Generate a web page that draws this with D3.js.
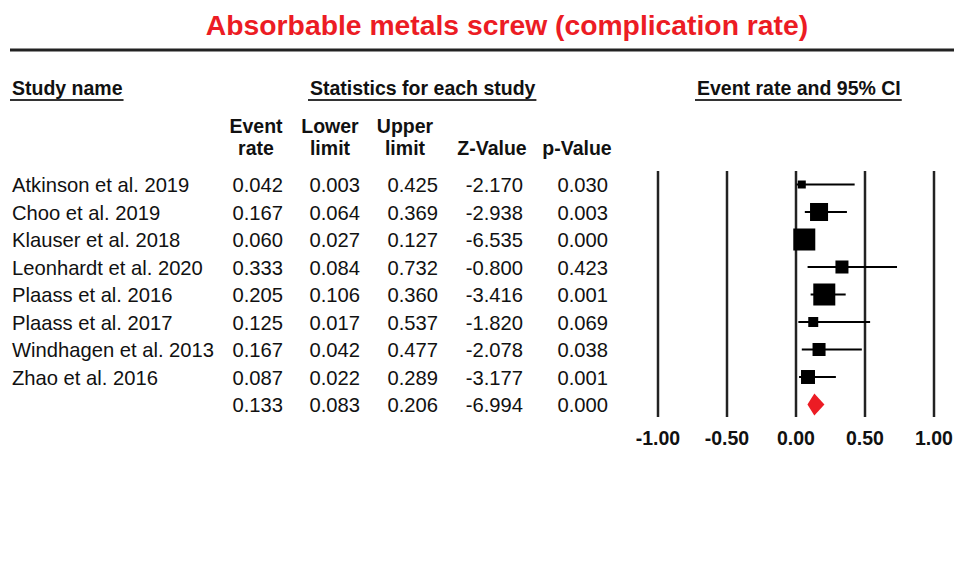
<!DOCTYPE html>
<html>
<head>
<meta charset="utf-8">
<script src="https://cdn.jsdelivr.net/npm/d3@7"></script>
<style>
  body { margin: 0; background: #fff; }
  svg text { font-family: "Liberation Sans", Arial, sans-serif; fill: #111; }
</style>
</head>
<body>
<script>
var studies = ["Atkinson et al. 2019", "Choo et al. 2019", "Klauser et al. 2018", "Leonhardt et al. 2020",
  "Plaass et al. 2016", "Plaass et al. 2017", "Windhagen et al. 2013", "Zhao et al. 2016"];
var eventRate = [0.042, 0.167, 0.060, 0.333, 0.205, 0.125, 0.167, 0.087];
var lowerLimit = [0.003, 0.064, 0.027, 0.084, 0.106, 0.017, 0.042, 0.022];
var upperLimit = [0.425, 0.369, 0.127, 0.732, 0.360, 0.537, 0.477, 0.289];
var zValue = [-2.170, -2.938, -6.535, -0.800, -3.416, -1.820, -2.078, -3.177];
var pValue = [0.030, 0.003, 0.000, 0.423, 0.001, 0.069, 0.038, 0.001];
// relative weights
var weights = [3.2, 16.3, 24.3, 8.5, 24.3, 5.0, 8.5, 9.8];
var summary = [0.133, 0.083, 0.206, -6.994, 0.000];
var xTicks = [-1, -0.5, 0, 0.5, 1];

var width = 954, height = 562;
var fs = 19.5, fsRow = 20.2;
// hyphen instead of unicode minus, like the original
var fmt = function(d){ return d3.format(".3f")(d).replace("\u2212", "-"); };
var tickFmt = function(d){ return d3.format(".2f")(d).replace("\u2212", "-"); };

var svg = d3.select("body").append("svg")
  .attr("width", width)
  .attr("height", height);

// title + rule
svg.append("text")
  .attr("x", 507).attr("y", 35)
  .attr("text-anchor", "middle")
  .style("font-size", "28.3px").style("font-weight", "bold")
  .style("fill", "#ec1c24")
  .text("Absorbable metals screw (complication rate)");

svg.append("line")
  .attr("x1", 10).attr("x2", width)
  .attr("y1", 50).attr("y2", 50)
  .attr("stroke", "#222").attr("stroke-width", 3);

// section headers, underlined
var sections = [["Study name", 12], ["Statistics for each study", 310], ["Event rate and 95% CI", 697]];
sections.forEach(function(s){
  var t = svg.append("text")
    .attr("x", s[1]).attr("y", 95)
    .style("font-size", fs + "px").style("font-weight", "bold")
    .text(s[0]);
  var w = t.node().getComputedTextLength();
  svg.append("line")
    .attr("x1", s[1] - 2).attr("x2", s[1] + w + 1)
    .attr("y1", 100).attr("y2", 100)
    .attr("stroke", "#333").attr("stroke-width", 2);
});

// column headers
var cols = [
  {top: "Event", bottom: "rate", cx: 256, right: 283, vals: eventRate},
  {top: "Lower", bottom: "limit", cx: 330, right: 360, vals: lowerLimit},
  {top: "Upper", bottom: "limit", cx: 405, right: 438, vals: upperLimit},
  {top: "", bottom: "Z-Value", cx: 492, right: 523, vals: zValue},
  {top: "", bottom: "p-Value", cx: 577, right: 608, vals: pValue}
];

cols.forEach(function(c, ci){
  svg.append("text").attr("x", c.cx).attr("y", 133)
    .attr("text-anchor", "middle")
    .style("font-size", fs + "px").style("font-weight", "bold")
    .text(c.top);
  svg.append("text").attr("x", c.cx).attr("y", 155)
    .attr("text-anchor", "middle")
    .style("font-size", fs + "px").style("font-weight", "bold")
    .text(c.bottom);
});

// rows
var rowIdx = d3.range(studies.length + 1);
var y = d3.scalePoint().domain(rowIdx).range([184.5, 404.5]);

svg.selectAll(".study")
  .data(studies)
  .enter().append("text")
  .attr("class", "study")
  .attr("x", 12)
  .attr("y", function(d, i){ return y(i) + 7.5; })
  .style("font-size", fsRow + "px")
  .text(function(d){ return d; });

cols.forEach(function(c, ci){
  var vals = c.vals.concat([summary[ci]]);
  svg.selectAll(".col" + ci)
    .data(vals)
    .enter().append("text")
    .attr("class", "col" + ci)
    .attr("x", c.right)
    .attr("y", function(d, i){ return y(i) + 7.5; })
    .attr("text-anchor", "end")
    .style("font-size", fsRow + "px")
    .text(function(d){ return fmt(d); });
});

// forest plot
var x = d3.scaleLinear().domain([-1, 1]).range([658, 934]);
var size = d3.scaleSqrt().domain([0, d3.max(weights)]).range([0, 22]);

svg.selectAll(".grid")
  .data(xTicks)
  .enter().append("line")
  .attr("class", "grid")
  .attr("x1", function(d){ return x(d); })
  .attr("x2", function(d){ return x(d); })
  .attr("y1", 171).attr("y2", 417)
  .attr("stroke", "#222").attr("stroke-width", 2.5);

svg.selectAll(".tick")
  .data(xTicks)
  .enter().append("text")
  .attr("class", "tick")
  .attr("x", function(d){ return x(d); })
  .attr("y", 445)
  .attr("text-anchor", "middle")
  .style("font-size", fs + "px").style("font-weight", "bold")
  .text(tickFmt);

svg.selectAll(".ci")
  .data(studies)
  .enter().append("line")
  .attr("class", "ci")
  .attr("x1", function(d, i){ return x(lowerLimit[i]); })
  .attr("x2", function(d, i){ return x(upperLimit[i]); })
  .attr("y1", function(d, i){ return y(i); })
  .attr("y2", function(d, i){ return y(i); })
  .attr("stroke", "#000").attr("stroke-width", 2);

svg.selectAll(".box")
  .data(studies)
  .enter().append("rect")
  .attr("class", "box")
  .attr("x", function(d, i){ return x(eventRate[i]) - size(weights[i]) / 2; })
  .attr("y", function(d, i){ return y(i) - size(weights[i]) / 2; })
  .attr("width", function(d, i){ return size(weights[i]); })
  .attr("height", function(d, i){ return size(weights[i]); })
  .style("fill", "#000");

var sy = y(studies.length);
svg.append("path")
  .attr("d", "M" + x(summary[1]) + "," + sy +
    "L" + x(summary[0]) + "," + (sy - 11) +
    "L" + x(summary[2]) + "," + sy +
    "L" + x(summary[0]) + "," + (sy + 11) + "Z")
  .style("fill", "#ec1c24");
</script>
</body>
</html>
